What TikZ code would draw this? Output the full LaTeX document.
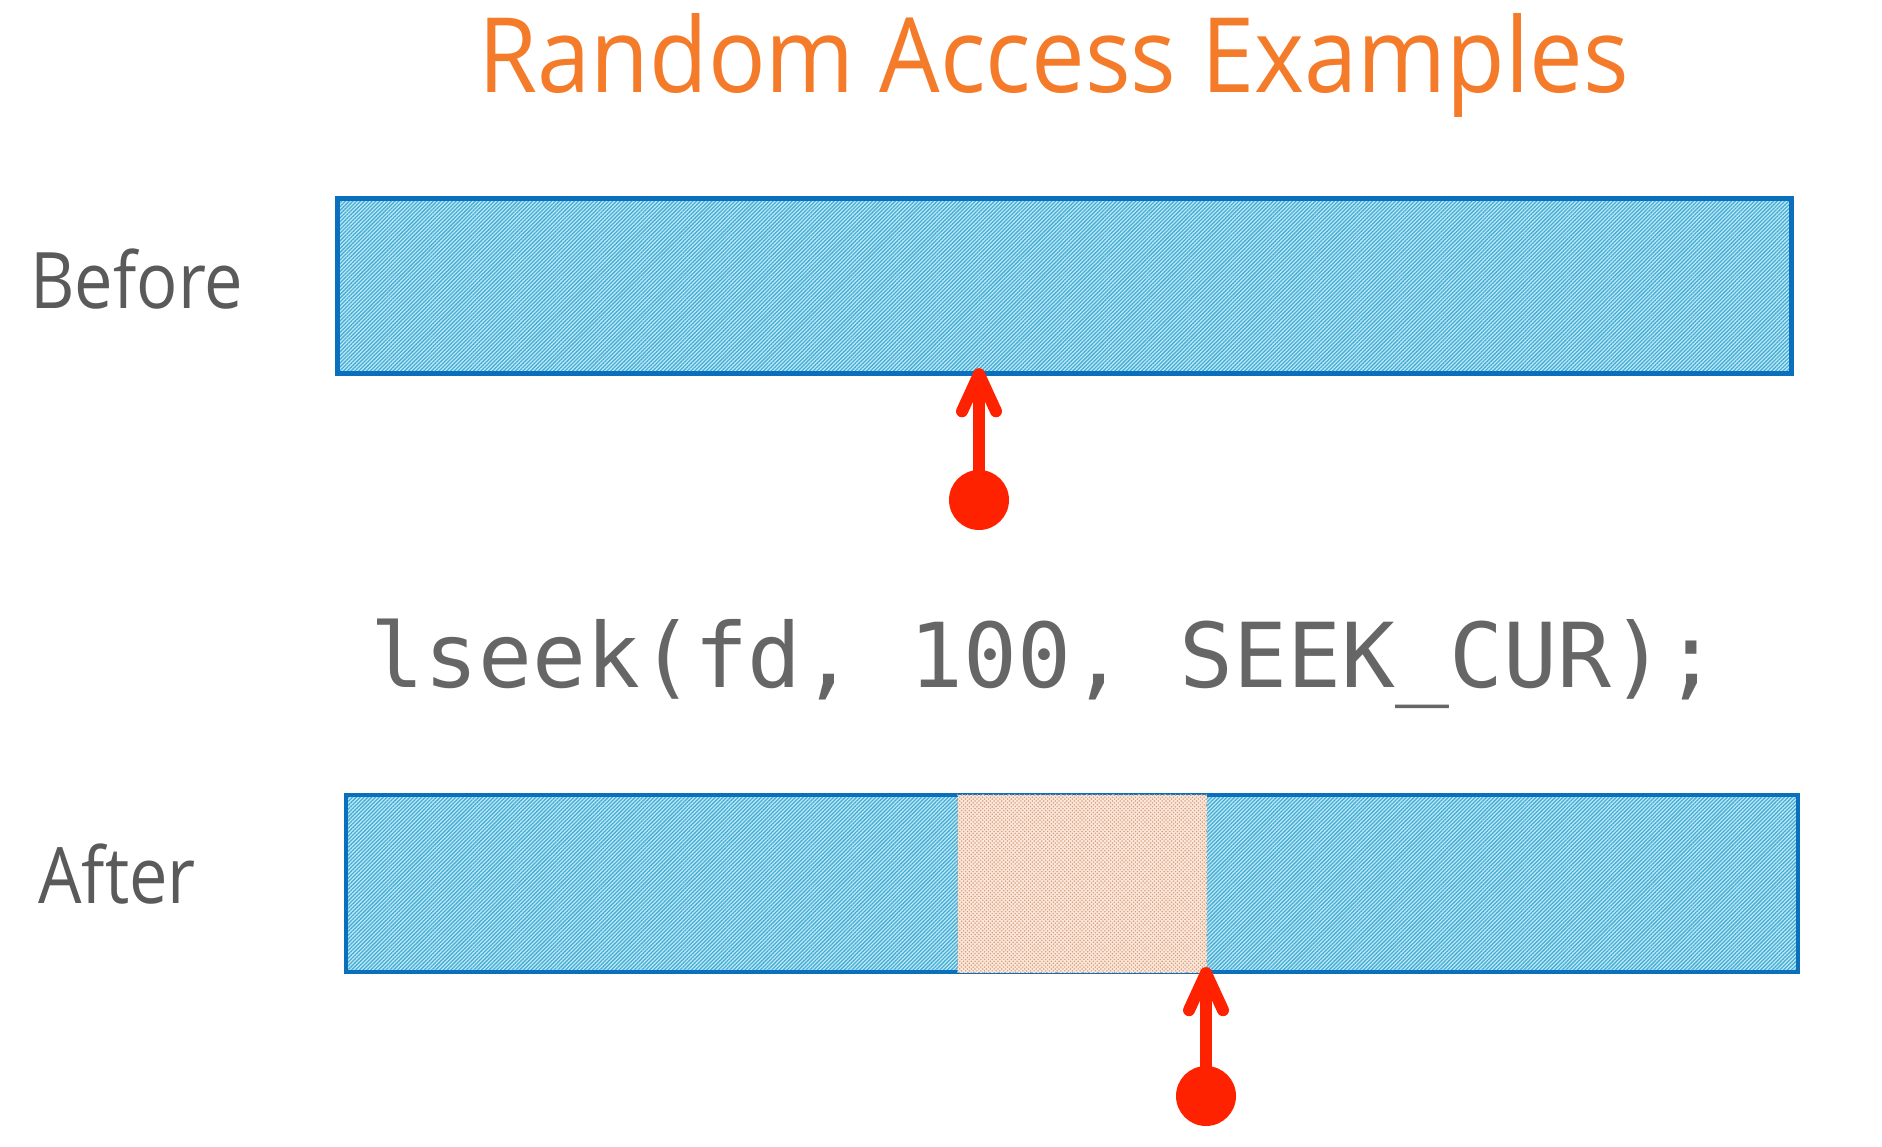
\documentclass[tikz,border=0pt]{standalone}
\usepackage{fontspec}
\setmainfont{Open Sans}
\setmonofont{DejaVu Sans Mono}
\usetikzlibrary{patterns.meta}
\definecolor{titleor}{HTML}{F47B2A}
\definecolor{txtgray}{HTML}{5A5A5A}
\definecolor{codegray}{HTML}{666666}
\definecolor{barblue}{HTML}{0A70BE}
\definecolor{hatchblue}{HTML}{45AED6}
\definecolor{hatchbg}{HTML}{C4E9F5}
\definecolor{pinkbg}{HTML}{FCE8DA}
\definecolor{pinkline}{HTML}{D39F80}
\definecolor{ptrred}{HTML}{FF2200}
\begin{document}
\begin{tikzpicture}[x=0.5pt,y=-0.5pt,
  bar/.style={draw=barblue, line width=2.2pt, inner sep=0pt, anchor=north west,
    preaction={fill=hatchbg},
    pattern={Lines[angle=45,distance=1.35pt,line width=0.65pt]}, pattern color=hatchblue},
  pinkbox/.style={draw=gray!70, dotted, line width=0.4pt, inner sep=0pt, anchor=north west,
    preaction={fill=pinkbg},
    pattern={Lines[angle=45,distance=1.35pt,line width=0.6pt]}, pattern color=pinkline},
  dot/.style={circle, fill=ptrred, inner sep=0pt, minimum size=30pt},
  ptr/.style={draw=ptrred, line width=6pt, line cap=round, line join=round},
  lbl/.style={anchor=base west, inner sep=0pt, text=txtgray, font=\fontsize{39}{45}\selectfont},
]
\useasboundingbox (0,0) rectangle (1882,1146);
\fill[white] (0,0) rectangle (1882,1146);

\node[anchor=base west, inner sep=0pt, text=titleor, font=\fontsize{52}{60}\selectfont]
  (title) at (478,92) {\scalebox{0.92}[1]{Random Access Examples}};

\node[lbl] (before) at (30,308) {\scalebox{0.88}[1]{Before}};
\node[lbl] (after) at (38,903) {\scalebox{0.88}[1]{After}};

\node[bar, minimum width=727pt, minimum height=87.5pt] (bar1) at (337,198) {};
\node[bar, minimum width=726pt, minimum height=88.5pt] (bar2) at (344,793) {};
\node[pinkbox, minimum width=124.5pt, minimum height=89pt] (gap) at (957,794) {};

\node[anchor=base west, inner sep=0pt, text=codegray, font=\ttfamily\fontsize{44.8}{50}\selectfont]
  (code) at (370,687) {lseek(fd, 100, SEEK\_CUR);};

\node[dot] (dot1) at (979,500) {};
\coordinate (tip1) at (dot1 |- bar1.south);
\draw[ptr] (dot1.center) -- (tip1);
\draw[ptr] ([shift={(-17,37)}]tip1) -- (tip1) -- ([shift={(17,37)}]tip1);

\node[dot] (dot2) at (1206,1096) {};
\coordinate (tip2) at (dot2 |- gap.south east);
\draw[ptr] (dot2.center) -- (tip2);
\draw[ptr] ([shift={(-17,37)}]tip2) -- (tip2) -- ([shift={(17,37)}]tip2);
\end{tikzpicture}
\end{document}
